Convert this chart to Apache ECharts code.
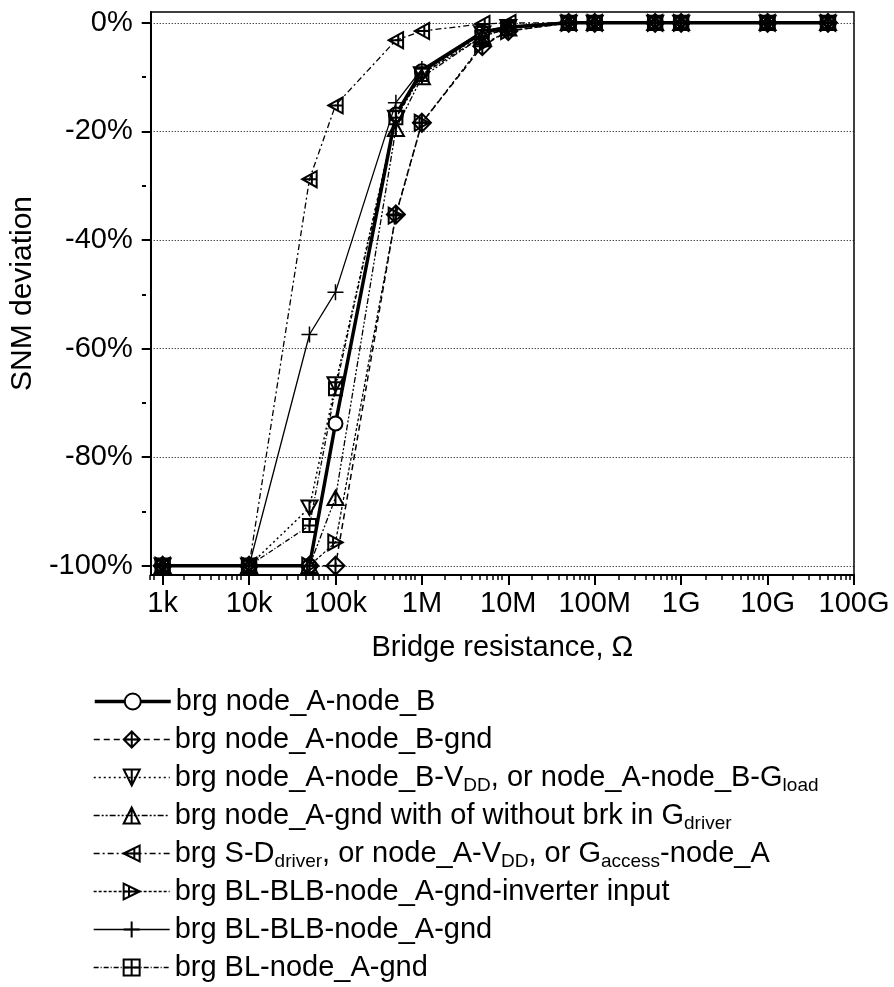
<!DOCTYPE html>
<html>
<head>
<meta charset="utf-8">
<script src="https://cdn.jsdelivr.net/npm/echarts@6/dist/echarts.min.js"></script>
<style>
  html, body { margin: 0; padding: 0; background: #fff; }
  #chart { width: 894px; height: 987px; }
</style>
</head>
<body>
<div id="chart"></div>
<script>
// bridge resistance (ohm) at which every defect was simulated
var resistance = [1e3, 1e4, 5e4, 1e5, 5e5, 1e6, 5e6, 1e7, 5e7, 1e8, 5e8, 1e9, 1e10, 5e10];

// SNM deviation in %, one array per defect
var nodeAB        = [-100, -100, -100, -73.8, -16.9, -8.9, -1.8, -0.8, 0, 0, 0, 0, 0, 0];
var nodeABgnd     = [-100, -100, -100, -100, -35.3, -18.4, -4.3, -1.5, 0, 0, 0, 0, 0, 0];
var nodeABvdd     = [-100, -100, -89.3, -66.6, -17.5, -9.5, -2.0, -0.8, 0, 0, 0, 0, 0, 0];
var nodeAgnd      = [-100, -100, -100, -87.5, -19.5, -10.0, -2.5, -1.0, 0, 0, 0, 0, 0, 0];
var sdDriver      = [-100, -100, -28.8, -15.2, -3.2, -1.5, -0.2, 0, 0, 0, 0, 0, 0, 0];
var blblbInverter = [-100, -100, -100, -95.7, -35.5, -18.4, -4.0, -1.5, 0, 0, 0, 0, 0, 0];
var blblbNodeA    = [-100, -100, -57.4, -49.6, -14.7, -8.5, -1.5, -0.6, 0, 0, 0, 0, 0, 0];
var blNodeA       = [-100, -100, -92.6, -67.4, -17.5, -9.5, -2.5, -1.0, 0, 0, 0, 0, 0, 0];

var xTickValues = [1e3, 1e4, 1e5, 1e6, 1e7, 1e8, 1e9, 1e10, 1e11];
var xTickLabels = ['1k', '10k', '100k', '1M', '10M', '100M', '1G', '10G', '100G'];
var yTickValues = [-100, -80, -60, -40, -20, 0];
var yMinorValues = [-90, -70, -50, -30, -10];

var seriesNames = [
  'brg node_A-node_B',
  'brg node_A-node_B-gnd',
  'brg node_A-node_B-VDD, or node_A-node_B-Gload',
  'brg node_A-gnd with of without brk in Gdriver',
  'brg S-Ddriver, or node_A-VDD, or Gaccess-node_A',
  'brg BL-BLB-node_A-gnd-inverter input',
  'brg BL-BLB-node_A-gnd',
  'brg BL-node_A-gnd'
];
var legendRich = [
  'brg node_A-node_B',
  'brg node_A-node_B-gnd',
  'brg node_A-node_B-V{s|DD}, or node_A-node_B-G{s|load}',
  'brg node_A-gnd with of without brk in G{s|driver}',
  'brg S-D{s|driver}, or node_A-V{s|DD}, or G{s|access}-node_A',
  'brg BL-BLB-node_A-gnd-inverter input',
  'brg BL-BLB-node_A-gnd',
  'brg BL-node_A-gnd'
];

var FONT = 'Liberation Sans, Arial, sans-serif';

// log-spaced minor ticks between the decades
var xMinorValues = [800, 900];
for (var d = 3; d < 11; d++) {
  for (var m = 2; m < 10; m++) xMinorValues.push(m * Math.pow(10, d));
}

function pairs(ys) {
  return ys.map(function (y, i) { return [resistance[i], y]; });
}

// open markers with a cross inside, like the scanned figure
var sym = {
  diamond: 'path://M5,0L10,5L5,10L0,5Z M5,0L5,10 M0,5L10,5',
  down: 'path://M0,0L10,0L5,9Z M5,0L5,9',
  up: 'path://M5,0L10,9L0,9Z M5,0L5,9',
  left: 'path://M0,5L9,0L9,10Z M0,5L9,5 M6,2L6,8',
  right: 'path://M9,5L0,0L0,10Z M0,5L9,5 M3,2L3,8',
  plus: 'path://M0,5L10,5M5,0L5,10',
  square: 'path://M0,0L10,0L10,10L0,10Z M5,0L5,10 M0,5L10,5'
};
var widths = [3.5, 1.5, 1.5, 1.3, 1.3, 1.3, 1.3, 1.3];

function line(idx, ys, symbol, size, lineType, fill, z) {
  return {
    name: seriesNames[idx],
    type: 'line',
    data: pairs(ys),
    symbol: symbol,
    symbolSize: size,
    symbolKeepAspect: true,
    z: z,
    lineStyle: { color: '#000', width: widths[idx], type: lineType },
    itemStyle: { color: fill, borderColor: '#000', borderWidth: 2 },
    emphasis: { disabled: true },
    animation: false
  };
}

var clear = 'rgba(0,0,0,0)';
var series = [
  line(0, nodeAB, 'circle', 14, 'solid', '#fff', 2),
  line(1, nodeABgnd, sym.diamond, 18, [6, 4], clear, 3),
  line(2, nodeABvdd, sym.down, 16, [2, 3], clear, 3),
  line(3, nodeAgnd, sym.up, 16, [6, 2, 2, 2, 2, 2], clear, 3),
  line(4, sdDriver, sym.left, 16, [6, 3, 2, 3], clear, 3),
  line(5, blblbInverter, sym.right, 16, [3, 2], clear, 3),
  line(6, blblbNodeA, sym.plus, 16, 'solid', clear, 3),
  line(7, blNodeA, sym.square, 13, [5, 2, 1, 2], clear, 3)
];
series[6].itemStyle.borderWidth = 1.5;

var legends = seriesNames.map(function (name, i) {
  return {
    data: [name],
    left: 88,
    top: 682 + i * 38,
    itemWidth: 76,
    itemHeight: 20,
    selectedMode: false,
    lineStyle: { width: widths[i] },
    formatter: function () { return legendRich[i]; },
    textStyle: {
      fontFamily: FONT, fontSize: 29, color: '#000',
      rich: { s: { fontFamily: FONT, fontSize: 19, color: '#000', padding: [16, 0, 0, 0] } }
    }
  };
});

var plotRect = { left: 146, right: 40, top: 12, bottom: 412 };

var chart = echarts.init(document.getElementById('chart'));
chart.setOption({
  backgroundColor: '#fff',
  animation: false,
  grid: [
    Object.assign({ show: true, borderColor: '#000', borderWidth: 1.5 }, plotRect),
    Object.assign({ show: false }, plotRect)
  ],
  legend: legends,
  xAxis: [{
    type: 'log', logBase: 10, min: 728, max: 1e11, gridIndex: 0,
    name: 'Bridge resistance, \u03a9', nameLocation: 'middle', nameGap: 58,
    nameTextStyle: { fontFamily: FONT, fontSize: 29, color: '#000' },
    axisLine: { onZero: false, lineStyle: { color: '#000', width: 2 } },
    axisTick: { customValues: xTickValues, length: 10, lineStyle: { color: '#000', width: 2 } },
    axisLabel: {
      customValues: xTickValues, margin: 14,
      fontFamily: FONT, fontSize: 29, color: '#000',
      formatter: function (v) { return xTickLabels[Math.round(Math.log10(v)) - 3]; }
    },
    splitLine: { show: false },
    minorTick: { show: false }
  }, {
    // minor ticks only, on an overlaid grid
    type: 'log', logBase: 10, min: 728, max: 1e11, gridIndex: 1, position: 'bottom',
    axisLine: { show: false, onZero: false },
    axisTick: { customValues: xMinorValues, length: 5, lineStyle: { color: '#000', width: 1.5 } },
    axisLabel: { show: false },
    splitLine: { show: false }
  }],
  yAxis: [{
    type: 'value', min: -101.7, max: 2, gridIndex: 0,
    name: 'SNM deviation', nameLocation: 'middle', nameGap: 91,
    nameTextStyle: { fontFamily: FONT, fontSize: 30, color: '#000' },
    axisLine: { onZero: false, lineStyle: { color: '#000', width: 2 } },
    axisTick: { customValues: yTickValues, length: 9, lineStyle: { color: '#000', width: 2 } },
    axisLabel: {
      customValues: yTickValues, margin: 18,
      fontFamily: FONT, fontSize: 29, color: '#000',
      formatter: function (v) { return v + '%'; }
    },
    splitLine: { show: true, lineStyle: { color: '#000', width: 1, type: [1, 2] } }
  }, {
    type: 'value', min: -101.7, max: 2, gridIndex: 1, position: 'left',
    axisLine: { show: false, onZero: false },
    axisTick: { customValues: yMinorValues, length: 4, lineStyle: { color: '#000', width: 2 } },
    axisLabel: { show: false },
    splitLine: { show: false }
  }],
  series: series
});
</script>
</body>
</html>
